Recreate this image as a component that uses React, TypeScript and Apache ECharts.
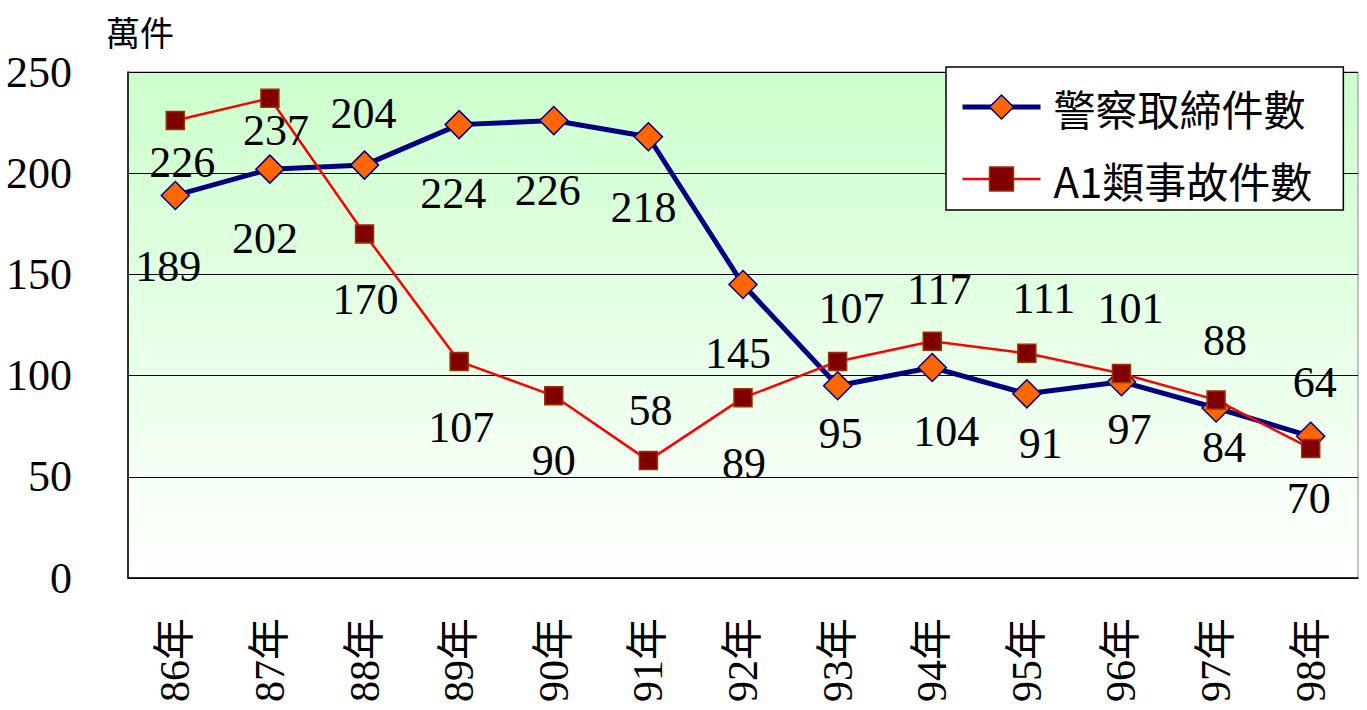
import React, { useEffect, useRef } from "react";
import * as echarts from "echarts";

const categories = ["86年", "87年", "88年", "89年", "90年", "91年", "92年", "93年", "94年", "95年", "96年", "97年", "98年"];
const enforcementName = "警察取締件數";
const accidentName = "A1類事故件數";
const enforcement = [189, 202, 204, 224, 226, 218, 145, 95, 104, 91, 97, 84, 70];
const accidents = [226, 237, 170, 107, 90, 58, 89, 107, 117, 111, 101, 88, 64];
const yMin = 0;
const yMax = 250;
const yInterval = 50;
const unitLabel = "萬件";

// label offsets (px) relative to each marker, as placed in the reference
const enforcementLabelOffsets = [
  [-7, 71], [-5, 69], [-1, -52], [-6, 69], [-6, 70], [-5, 71], [-5, 69],
  [3, 48], [14, 64], [14, 50], [8, 48], [8, 40], [-2, 62],
];
const accidentLabelOffsets = [
  [7, 42], [6, 32], [1, 66], [2, 66], [0, 65], [2, -50], [1, 66],
  [14, -53], [7, -52], [17, -55], [9, -65], [9, -59], [4, -66],
];

const NUM_FONT = "'Liberation Serif', 'Noto Sans CJK TC', serif";
const CJK_FONT = "'Noto Sans CJK TC', 'Liberation Serif', sans-serif";

export default function App() {
  const ref = useRef<HTMLDivElement>(null);
  useEffect(() => {
    document.body.style.margin = "0";
    const chart = echarts.init(ref.current!, null, { renderer: "svg" });
    const labelStyle = {
      show: true,
      position: "inside",
      fontFamily: NUM_FONT,
      fontSize: 44,
      color: "#000",
      align: "center",
      verticalAlign: "middle",
    };
    const blueLine = { color: "#000080", width: 5 };
    const blueItem = { color: "#ff6600", borderColor: "#000080", borderWidth: 1.5 };
    const redLine = { color: "#ff0000", width: 2.5 };
    const redItem = { color: "#800000", borderColor: "#993300", borderWidth: 1.5 };
    chart.setOption({
      animation: false,
      backgroundColor: "#fff",
      grid: {
        left: 128,
        right: 9,
        top: 72,
        bottom: 132,
        show: true,
        borderColor: "#888",
        borderWidth: 1,
        backgroundColor: new echarts.graphic.LinearGradient(0, 0, 0, 1, [
          { offset: 0, color: "#ccffcc" },
          { offset: 1, color: "#ffffff" },
        ]),
      },
      graphic: [
        {
          type: "text",
          left: 106,
          top: 14,
          style: { text: unitLabel, font: `34px ${CJK_FONT}`, fill: "#000" },
        },
      ],
      legend: {
        orient: "vertical",
        left: 946,
        top: 67,
        backgroundColor: "#fff",
        borderColor: "#000",
        borderWidth: 1.5,
        padding: [19, 31, 10, 14],
        itemGap: 30,
        itemWidth: 78,
        itemHeight: 30,
        textStyle: { fontFamily: CJK_FONT, fontSize: 42, color: "#000", padding: [0, 0, 0, 8] },
        data: [
          { name: enforcementName, lineStyle: blueLine, itemStyle: blueItem },
          { name: accidentName, lineStyle: redLine, itemStyle: redItem },
        ],
      },
      xAxis: {
        type: "category",
        data: categories,
        boundaryGap: true,
        axisLine: { lineStyle: { color: "#000", width: 1.5 } },
        axisTick: { inside: true, length: 15, lineStyle: { color: "#000" } },
        axisLabel: {
          rotate: 90,
          margin: 40,
          fontFamily: NUM_FONT,
          fontSize: 42,
          color: "#000",
        },
      },
      yAxis: {
        type: "value",
        min: yMin,
        max: yMax,
        interval: yInterval,
        axisLine: { show: true, lineStyle: { color: "#000", width: 1.5 } },
        axisTick: { show: true, inside: true, length: 15, lineStyle: { color: "#000" } },
        splitLine: { show: true, lineStyle: { color: "#000", width: 1 } },
        axisLabel: {
          margin: 56,
          fontFamily: NUM_FONT,
          fontSize: 44,
          color: "#000",
          padding: [10, 0, 0, 0],
        },
      },
      series: [
        {
          name: enforcementName,
          type: "line",
          data: enforcement.map((v, i) => ({
            value: v,
            label: { offset: enforcementLabelOffsets[i] },
          })),
          symbol: "diamond",
          symbolSize: 28,
          lineStyle: blueLine,
          itemStyle: blueItem,
          label: labelStyle,
          z: 2,
        },
        {
          name: accidentName,
          type: "line",
          data: accidents.map((v, i) => ({
            value: v,
            label: { offset: accidentLabelOffsets[i] },
          })),
          symbol: "rect",
          symbolSize: 18,
          lineStyle: redLine,
          itemStyle: redItem,
          label: labelStyle,
          z: 3,
        },
      ],
    });
    return () => chart.dispose();
  }, []);
  return <div ref={ref} style={{ width: 1367, height: 710 }} />;
}
